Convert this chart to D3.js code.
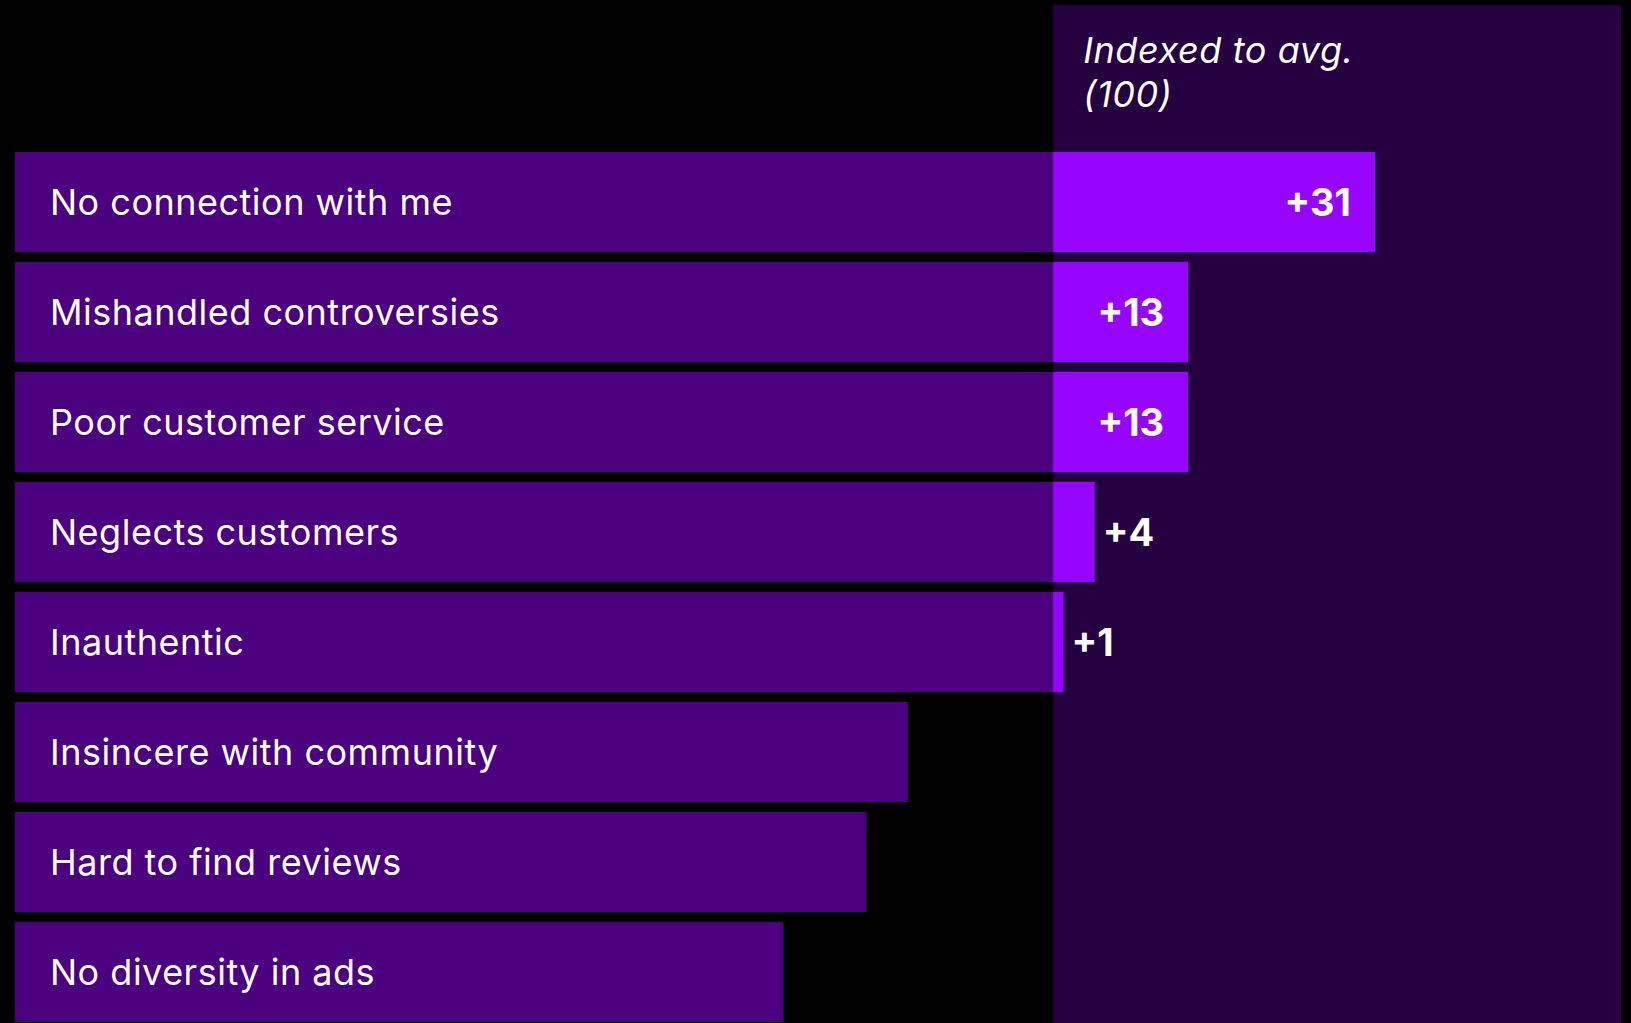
<!DOCTYPE html>
<html>
<head>
<meta charset="utf-8">
<script src="https://cdn.jsdelivr.net/npm/d3@7"></script>
<style>
  html, body { margin: 0; padding: 0; background: #000; }
  svg { display: block; }
  text { font-family: Inter, "Liberation Sans", Arial, sans-serif; fill: #fff; }
</style>
</head>
<body>
<svg id="chart" width="1631" height="1023"></svg>
<script>
// Reasons for disliking a brand, indexed to the average (100)
const categories = [
  "No connection with me",
  "Mishandled controversies",
  "Poor customer service",
  "Neglects customers",
  "Inauthentic",
  "Insincere with community",
  "Hard to find reviews",
  "No diversity in ads"
];
const indexValues = [131, 113, 113, 104, 101, 86, 82, 74];
const baseline = 100;
const panelTitle = ["Indexed to avg.", "(100)"];

const W = 1631, H = 1023;
const colors = { bg: "#000000", panel: "#250040", bar: "#4a007f", above: "#9505ff" };

const data = categories.map((c, i) => ({ category: c, value: indexValues[i] }));

const svg = d3.select("#chart");

const x = d3.scaleLinear()
  .domain([0, d3.max(indexValues)])
  .range([15, 1375]);

const y = d3.scaleBand()
  .domain(categories)
  .range([152, 1022])
  .paddingInner(10 / 110)
  .paddingOuter(0);

svg.append("rect")
  .attr("width", W).attr("height", H)
  .attr("fill", colors.bg);

// Shaded column for the portion above the average
svg.append("rect")
  .attr("x", x(baseline))
  .attr("y", 5)
  .attr("width", 1621 - x(baseline))
  .attr("height", H - 5)
  .attr("fill", colors.panel);

const title = svg.append("text")
  .attr("x", x(baseline) + 30)
  .attr("y", 63)
  .attr("font-size", 36)
  .attr("letter-spacing", 0.6)
  .attr("font-style", "italic");
title.selectAll("tspan")
  .data(panelTitle)
  .join("tspan")
  .attr("x", x(baseline) + 30)
  .attr("dy", (d, i) => i === 0 ? 0 : 44)
  .text(d => d);

const rows = svg.selectAll("g.row")
  .data(data)
  .join("g")
  .attr("class", "row")
  .attr("transform", d => `translate(0,${y(d.category)})`);

// Part of each bar up to the average
rows.append("rect")
  .attr("x", x(0))
  .attr("y", 0)
  .attr("width", d => x(Math.min(d.value, baseline)) - x(0))
  .attr("height", y.bandwidth())
  .attr("fill", colors.bar);

// Part above the average
rows.filter(d => d.value > baseline)
  .append("rect")
  .attr("x", x(baseline))
  .attr("y", 0)
  .attr("width", d => x(d.value) - x(baseline))
  .attr("height", y.bandwidth())
  .attr("fill", colors.above);

rows.append("text")
  .attr("x", 50)
  .attr("y", y.bandwidth() / 2 + 13)
  .attr("font-size", 36)
  .attr("letter-spacing", 0.5)
  .text(d => d.category);

const diffLabel = d => "+" + (d.value - baseline);
const inside = d => x(d.value) - x(baseline) > 90;

rows.filter(d => d.value > baseline)
  .append("text")
  .attr("x", d => inside(d) ? x(d.value) - 24 : x(d.value) + 8)
  .attr("y", y.bandwidth() / 2 + 14)
  .attr("text-anchor", d => inside(d) ? "end" : "start")
  .attr("font-size", 38)
  .attr("font-weight", 700)
  .text(diffLabel);
</script>
</body>
</html>
